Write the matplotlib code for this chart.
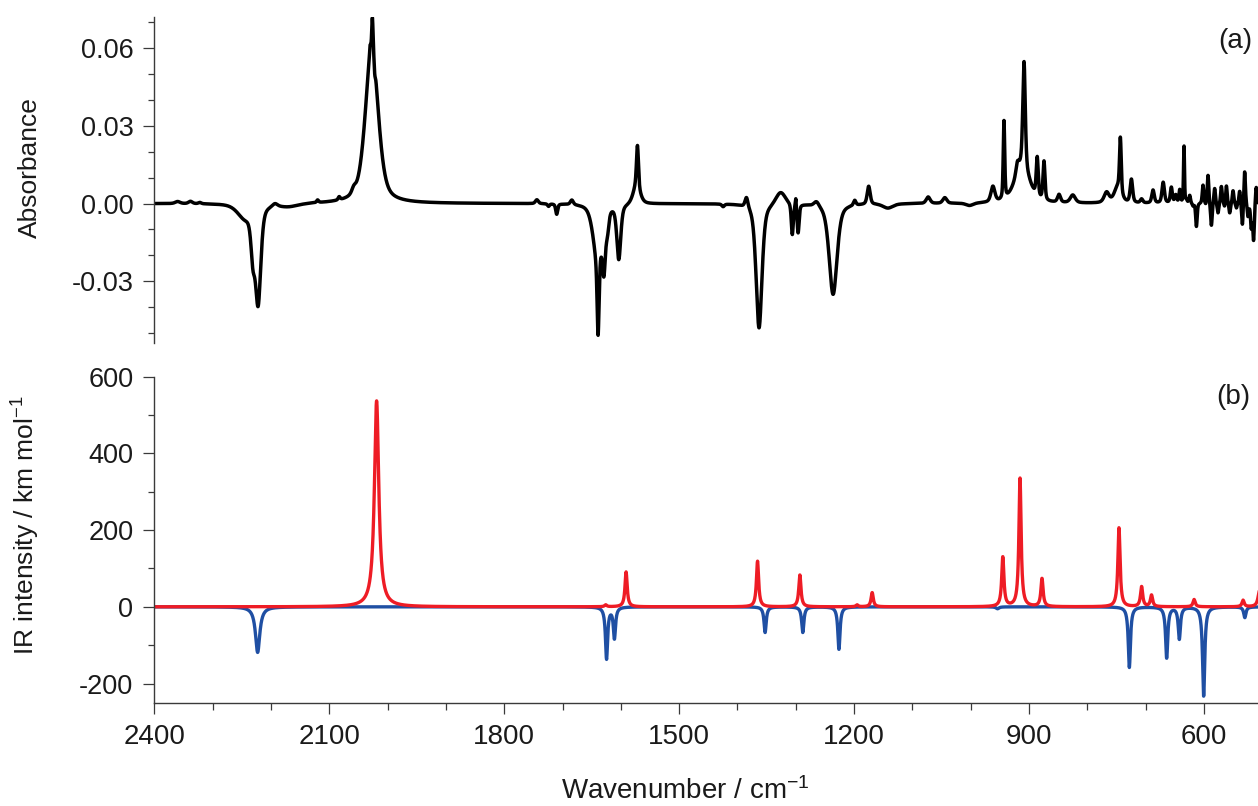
import numpy as np
import matplotlib
matplotlib.use("Agg")
import matplotlib.pyplot as plt
from matplotlib.ticker import MultipleLocator, FormatStrFormatter

# ---------------- data ----------------
# (a) experimental difference spectrum: bands (centre cm-1, absorbance, FWHM cm-1)
exp_centers = [2360, 2338, 2322, 2245, 2231, 2222, 2193, 2170, 2120, 2083,
               2058, 2027, 2026, 2022, 2030, 1744, 1724, 1710, 1684, 1640,
               1639, 1629, 1623, 1603.5, 1573, 1571.5, 1424.6, 1384.5, 1363, 1326,
               1306, 1300, 1296, 1264.5, 1236, 1199, 1175, 1142, 1073, 1044.5,
               1002, 962, 943, 920, 912, 908.6, 886, 874.4, 848.6, 825,
               767, 748, 743.4, 724.5, 707, 687.4, 670, 656, 648.5, 641.6,
               634.3]
exp_amps = [0.0008, 0.0009, 0.0005, -0.005, -0.015, -0.037, 0.0012, -0.0012, 0.001, 0.0012,
            0.002, 0.060, 0.012, -0.004, 0.003, 0.0015, -0.001, -0.004, 0.0018, -0.020,
            -0.030, -0.019, -0.007, -0.021, 0.007, 0.016, -0.001, 0.004, -0.048, 0.005,
            -0.012, 0.004, -0.011, 0.002, -0.035, 0.002, 0.007, -0.0017, 0.0025, 0.0022,
            -0.001, 0.006, 0.030, 0.004, 0.014, 0.041, 0.015, 0.015, 0.003, 0.003,
            0.004, 0.006, 0.021, 0.009, 0.0015, 0.005, 0.008, 0.006, 0.003, 0.005,
            0.022]
exp_widths = [10, 8, 6, 30, 8, 11, 10, 40, 4, 4,
              8, 26, 2.5, 2.5, 2, 6, 4, 4, 6, 18,
              4, 6, 6, 8, 14, 4, 5, 6, 12, 20,
              4, 2, 4, 10, 16, 5, 6, 20, 8, 8,
              15, 8, 3, 6, 30, 5, 4, 4, 6, 10,
              10, 14, 3.5, 5, 5, 5, 5, 4, 4, 3,
              2]
# noisy low-frequency end of (a): spike positions and values
noise_wn = [630.2, 624.5, 618.8, 613.0, 607.4, 601.7, 597.0, 593.1, 587.3, 581.7,
            576.0, 570.2, 564.5, 561.6, 555.9, 550.2, 544.5, 538.8, 534.2, 530.3,
            524.6, 518.9, 515.0, 510.5]
noise_amp = [0.001, 0.003, -0.001, -0.009, 0.0, 0.007, -0.001, 0.011, -0.009, 0.006,
             -0.004, 0.0066, -0.002, 0.007, -0.004, 0.005, -0.002, 0.005, -0.009, 0.013,
             -0.005, -0.009, -0.014, 0.007]

# (b) calculated IR spectra: red (positive) and blue (negative) bands
red_wn = [2018.8, 1626, 1591, 1365.6, 1293, 1195, 1169, 945, 915.5, 877.8,
          745.8, 707, 690, 617, 533, 505]
red_int = [537, 5, 91, 119, 83, 5, 37, 129, 335, 73,
           206, 52, 30, 19, 17, 40]
red_fwhm = [9, 4.5, 4.5, 4.5, 4.5, 4.5, 4.5, 4.5, 4.5, 4.5,
            4.5, 4.5, 4.5, 4.5, 4.5, 6]
blue_wn = [2222.8, 1624.5, 1611, 1352.6, 1288, 1226, 954, 728, 664, 642.3, 600.6, 530]
blue_int = [-119, -135, -81, -67, -67, -111, -5, -158, -133, -83, -233, -28]
blue_fwhm = [9, 4.5, 4.5, 4.5, 4.5, 4.5, 6, 4.5, 4.5, 4.5, 4.5, 4.5]


def band(x, c, a, w, eta):
    u = 2.0 * (x - c) / w
    return a * (eta / (1.0 + u ** 2) + (1.0 - eta) * np.exp(-np.log(2) * u ** 2))


x = np.linspace(2400, 500, 8000)
ya = np.zeros_like(x)
for c, a, w in zip(exp_centers, exp_amps, exp_widths):
    ya += band(x, c, a, w, 0.5)
for c, a in zip(noise_wn, noise_amp):
    ya += band(x, c, a, 3.0, 0.5)

yr = np.zeros_like(x)
for c, a, w in zip(red_wn, red_int, red_fwhm):
    yr += band(x, c, a, w, 1.0)
yb = np.zeros_like(x)
for c, a, w in zip(blue_wn, blue_int, blue_fwhm):
    yb += band(x, c, a, w, 1.0)

# ---------------- figure ----------------
plt.rcParams['font.family'] = ['Liberation Sans', 'DejaVu Sans']
plt.rcParams['axes.unicode_minus'] = False
plt.rcParams['mathtext.default'] = 'regular'

W, H = 1258, 806
fig = plt.figure(figsize=(W / 100, H / 100), dpi=100)
left = 154.3 / W
ax1 = fig.add_axes([left, 1 - 343 / H, 1 - left, (343 - 17) / H])
ax2 = fig.add_axes([left, 1 - 702.7 / H, 1 - left, (702.7 - 376.7) / H])

txt = '#1a1a1a'
spc = '#3a3a3a'

ax1.plot(x, ya, color='black', lw=2.5, solid_joinstyle='round')
ax2.plot(x, yb, color='#1f4fa3', lw=2.4)
ax2.plot(x, yr, color='#ee1c25', lw=2.4)

for ax in (ax1, ax2):
    ax.set_xlim(2400, 507.4)
    ax.spines['top'].set_visible(False)
    ax.spines['right'].set_visible(False)
    for s in ax.spines.values():
        s.set_color(spc)
        s.set_linewidth(1.0)
    ax.tick_params(which='both', direction='out', colors=spc, labelcolor=txt,
                   labelsize=19.5, width=0.9, pad=7)
    ax.tick_params(which='major', length=8)
    ax.tick_params(axis='y', which='minor', length=4)
    ax.tick_params(axis='x', which='minor', length=5)

ax1.spines['bottom'].set_visible(False)
ax1.tick_params(axis='x', which='both', bottom=False, labelbottom=False)
ax1.set_ylim(-0.0537, 0.0718)
ax1.yaxis.set_major_locator(MultipleLocator(0.03))
ax1.yaxis.set_minor_locator(MultipleLocator(0.01))
ax1.yaxis.set_major_formatter(FormatStrFormatter('%.2f'))

ax2.set_ylim(-250, 600)
ax2.yaxis.set_major_locator(MultipleLocator(200))
ax2.yaxis.set_minor_locator(MultipleLocator(100))
ax2.xaxis.set_major_locator(MultipleLocator(300))
ax2.xaxis.set_minor_locator(MultipleLocator(100))
ax2.tick_params(axis='x', labelsize=20)

ax1.set_ylabel('Absorbance', fontsize=19, color=txt)
ax1.yaxis.set_label_coords(-0.1017, 0.538)
ax2.set_ylabel('IR intensity / km mol$^{-1}$', fontsize=19, color=txt)
ax2.yaxis.set_label_coords(-0.1017, 0.545)

fig.text(685 / W, 7 / H, 'Wavenumber / cm$^{-1}$', ha='center', va='baseline',
         fontsize=20, color=txt)
fig.text(1235 / W, 1 - 41 / H, '(a)', ha='center', va='center', fontsize=20, color=txt)
fig.text(1233 / W, 1 - 397 / H, '(b)', ha='center', va='center', fontsize=20, color=txt)

fig.savefig('out.png', dpi=100)
